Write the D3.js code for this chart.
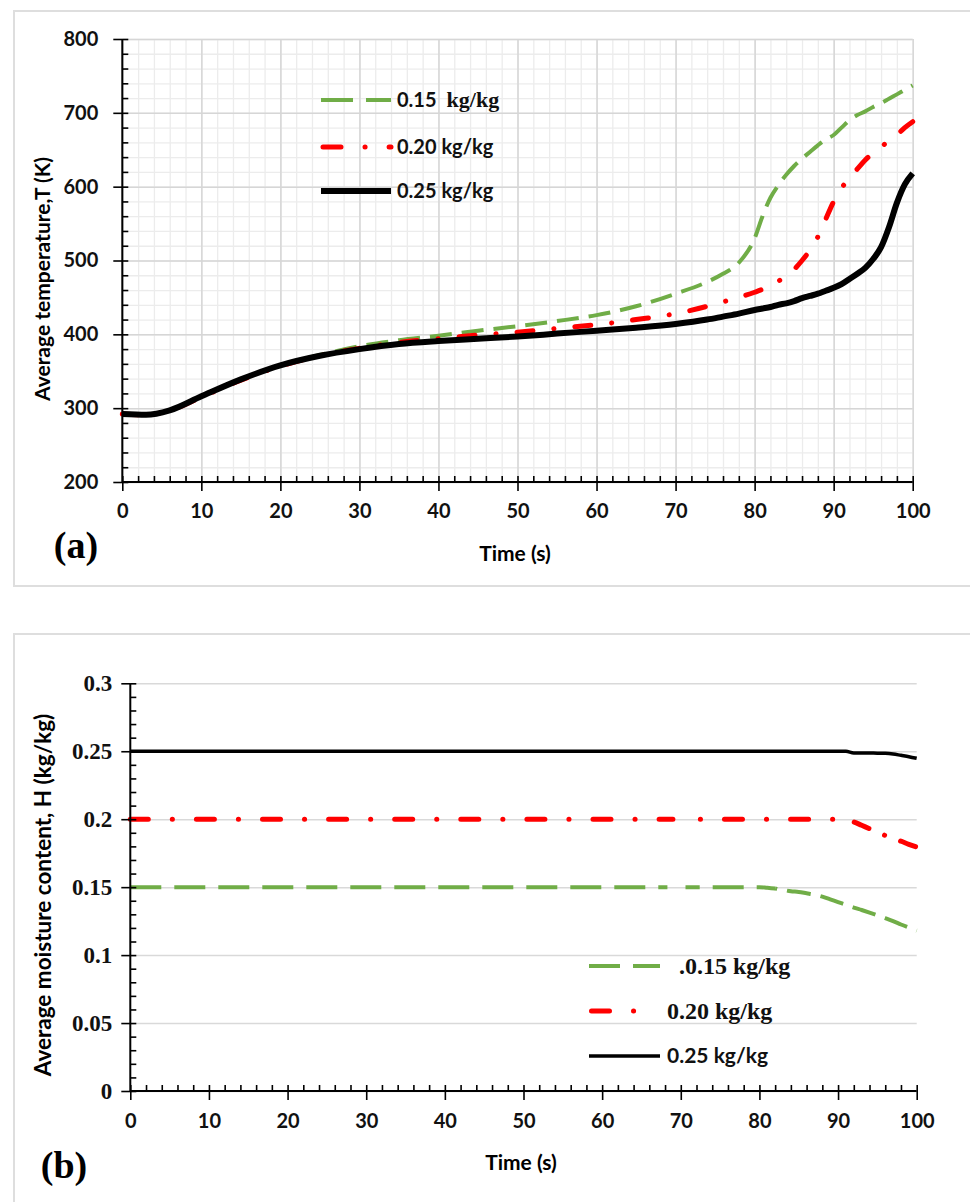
<!DOCTYPE html>
<html>
<head>
<meta charset="utf-8">
<script src="https://cdn.jsdelivr.net/npm/d3@7"></script>
<style>
  body { margin: 0; background: #fff; }
  svg { display: block; }
</style>
</head>
<body>
<script>
/***********************************************************************************/
// Data - panel (a): average temperature T (K) vs time (s)

var timeA = [0, 3, 6, 10, 15, 20, 25, 30, 35, 40, 45, 50, 55, 60, 65, 70, 74, 76, 78, 80,
             81, 82, 83, 84, 85, 86, 87, 88, 89, 90, 91, 92, 93, 94, 95, 96, 97, 98, 99, 100];
var tempH015 = [292, 291, 297, 316, 339, 358, 372, 384, 392, 398, 405, 411, 418, 426, 438, 455, 471, 482, 497, 530,
                560, 585, 602, 616, 628, 638, 647, 656, 664, 670, 680, 690, 697, 702, 708, 713, 719, 725, 731, 737];
var tempH020 = [292, 291, 297, 315, 338, 357, 371, 381, 389, 394, 399, 403, 408, 413, 420, 428, 438, 444, 450, 457,
                461, 466, 472, 479, 488, 500, 514, 532, 556, 580, 598, 612, 624, 636, 646, 654, 662, 670, 680, 688];
var tempH025 = [292, 291, 297, 316, 339, 358, 371, 380, 387, 391, 394, 397, 401, 405, 409, 414, 420, 424, 428, 433,
                435, 437, 440, 442, 445, 449, 452, 455, 459, 463, 468, 475, 482, 490, 502, 518, 545, 578, 603, 618];

/***********************************************************************************/
// Data - panel (b): average moisture content H (kg/kg) vs time (s)
// (null = the short break seen in the dashed series around 69-71 s)

var timeB = [0, 10, 20, 30, 40, 50, 60, 68.3, 69, 70.6, 71.4, 80, 81, 82, 83, 84, 85, 86, 87, 88, 89, 90,
             91, 92, 93, 94, 95, 96, 97, 98, 99, 100];
var moistH015 = [0.15, 0.15, 0.15, 0.15, 0.15, 0.15, 0.15, 0.15, null, 0.15, 0.15, 0.15,
                 0.1495, 0.149, 0.148, 0.147, 0.1465, 0.1455, 0.1445, 0.143, 0.141, 0.139,
                 0.137, 0.135, 0.1332, 0.1313, 0.1293, 0.1272, 0.125, 0.1225, 0.1202, 0.118];
var moistH020 = [0.2, 0.2, 0.2, 0.2, 0.2, 0.2, 0.2, 0.2, 0.2, null, 0.2, 0.2,
                 0.2, 0.2, 0.2, 0.2, 0.2, 0.2, 0.2, 0.2, 0.2, 0.2,
                 0.1995, 0.198, 0.1955, 0.193, 0.1905, 0.188, 0.1858, 0.1838, 0.1815, 0.1795];
var moistH025 = [0.25, 0.25, 0.25, 0.25, 0.25, 0.25, 0.25, 0.25, 0.25, 0.25, 0.25, 0.25,
                 0.25, 0.25, 0.25, 0.25, 0.25, 0.25, 0.25, 0.25, 0.25, 0.25,
                 0.25, 0.2488, 0.2488, 0.2487, 0.2486, 0.2485, 0.248, 0.247, 0.246, 0.2448];

// Tick values and labels
var timeTicks = d3.range(0, 101, 10);
var tempTicks = d3.range(200, 801, 100);
var moistTicks = [0, 0.05, 0.1, 0.15, 0.2, 0.25, 0.3];
var legendA = ['0.15', '0.20 kg/kg', '0.25 kg/kg'];
var legendB = ['.0.15 kg/kg', '0.20 kg/kg', '0.25 kg/kg'];

/***********************************************************************************/
// Setup

var SANS = "Lato, 'Open Sans', sans-serif";
var SERIF = "'Liberation Serif', 'DejaVu Serif', serif";
var GREEN = '#70ad47', RED = '#ff0000', BLACK = '#000000';

var svg = d3.select('body').append('svg').attr('width', 970).attr('height', 1202);

// panel frames (they run off the right edge like the source figure)
svg.append('rect').attr('x', 14).attr('y', 11).attr('width', 990).attr('height', 575)
  .attr('fill', 'none').attr('stroke', '#dedede').attr('stroke-width', 2);
svg.append('rect').attr('x', 14).attr('y', 634).attr('width', 990).attr('height', 620)
  .attr('fill', 'none').attr('stroke', '#dedede').attr('stroke-width', 2);

function zip(ts, vs){ return ts.map(function(t, i){ return { t: t, v: vs[i] }; }); }

// split at nulls -> list of continuous pieces
function pieces(pts){
  var out = [], cur = [];
  pts.forEach(function(p){
    if (p.v == null) { if (cur.length) out.push(cur); cur = []; }
    else cur.push(p);
  });
  if (cur.length) out.push(cur);
  return out;
}

function styleAxis(g){
  g.select('.domain').remove();
  g.selectAll('line').attr('stroke', '#000').attr('stroke-width', 1.6);
}

function gridStyle(color, w){
  return function(g){ g.select('.domain').remove(); g.selectAll('line').attr('stroke', color).attr('stroke-width', w); };
}

/***********************************************************************************/
// Panel (a)

var xA = d3.scaleLinear().domain([0, 100]).range([122.3, 912.7]);
var yA = d3.scaleLinear().domain([200, 800]).range([482, 39]);
var gA = svg.append('g');

// grid: minor then major
gA.append('g').attr('transform', `translate(0,${yA(200)})`)
  .call(d3.axisBottom(xA).tickValues(d3.range(0, 101, 2)).tickSize(yA(800) - yA(200)).tickFormat(''))
  .call(gridStyle('#ececec', 1.3));
gA.append('g').attr('transform', `translate(${xA(0)},0)`)
  .call(d3.axisLeft(yA).tickValues(d3.range(200, 801, 20)).tickSize(xA(0) - xA(100)).tickFormat(''))
  .call(gridStyle('#ececec', 1.3));
gA.append('g').attr('transform', `translate(0,${yA(200)})`)
  .call(d3.axisBottom(xA).tickValues(timeTicks).tickSize(yA(800) - yA(200)).tickFormat(''))
  .call(gridStyle('#d6d6d6', 1.5));
gA.append('g').attr('transform', `translate(${xA(0)},0)`)
  .call(d3.axisLeft(yA).tickValues(tempTicks).tickSize(xA(0) - xA(100)).tickFormat(''))
  .call(gridStyle('#d6d6d6', 1.5));

// curves
var lineA = d3.line().x(function(d){ return xA(d.t); }).y(function(d){ return yA(d.v); }).curve(d3.curveMonotoneX);
var seriesA = [
  { values: tempH015, color: GREEN, width: 4, dash: '22,10', cap: 'butt' },
  { values: tempH020, color: RED, width: 5, dash: '16,21,0.1,21', cap: 'round' },
  { values: tempH025, color: BLACK, width: 6, dash: null, cap: 'butt' }
];
seriesA.forEach(function(s){
  gA.append('path').datum(zip(timeA, s.values)).attr('d', lineA)
    .attr('fill', 'none').attr('stroke', s.color).attr('stroke-width', s.width)
    .attr('stroke-dasharray', s.dash).attr('stroke-linecap', s.cap).attr('stroke-linejoin', 'round');
});

// axes: inward minor ticks + crossing major ticks
gA.append('g').attr('transform', `translate(0,${yA(200)})`)
  .call(d3.axisBottom(xA).tickValues(d3.range(0, 101, 2)).tickSize(-6).tickFormat('')).call(styleAxis);
gA.append('g').attr('transform', `translate(${xA(0)},0)`)
  .call(d3.axisLeft(yA).tickValues(d3.range(200, 801, 20)).tickSize(-6).tickFormat('')).call(styleAxis);
gA.append('g').attr('transform', `translate(0,${yA(200)})`)
  .call(d3.axisBottom(xA).tickValues(timeTicks).tickSize(9).tickFormat(d3.format('d'))).call(styleAxis)
  .call(function(g){ g.selectAll('text').attr('y', 29).attr('dy', '0.35em'); });
gA.append('g').attr('transform', `translate(${xA(0)},0)`)
  .call(d3.axisLeft(yA).tickValues(tempTicks).tickSize(9).tickPadding(15).tickFormat(d3.format('d'))).call(styleAxis);
gA.append('line').attr('x1', xA(0)).attr('x2', xA(100)).attr('y1', yA(200)).attr('y2', yA(200)).attr('stroke', '#000').attr('stroke-width', 2);
gA.append('line').attr('x1', xA(0)).attr('x2', xA(0)).attr('y1', yA(200)).attr('y2', yA(800)).attr('stroke', '#000').attr('stroke-width', 2);
gA.selectAll('.tick text').attr('font-family', SANS).attr('font-weight', 700).attr('font-size', 20).attr('fill', '#111');

// titles
gA.append('text').attr('transform', 'translate(43,279) rotate(-90)').attr('text-anchor', 'middle').attr('dy', '0.35em')
  .attr('font-family', SANS).attr('font-weight', 700).attr('font-size', 21).text('Average temperature,T (K)');
gA.append('text').attr('x', 515).attr('y', 554).attr('text-anchor', 'middle').attr('dy', '0.35em')
  .attr('font-family', SANS).attr('font-weight', 700).attr('font-size', 21).text('Time (s)');
gA.append('text').attr('x', 76).attr('y', 545).attr('text-anchor', 'middle').attr('dy', '0.35em')
  .attr('font-family', SERIF).attr('font-weight', 700).attr('font-size', 38).text('(a)');

// legend
var legA = gA.append('g');
var legDashA = ['32,13', '18,24,0.1,24', null];
var legYA = [100, 147, 191];
seriesA.forEach(function(s, i){
  var x1 = s.cap === 'round' ? 323 : 321;
  legA.append('line').attr('x1', x1).attr('x2', 391).attr('y1', legYA[i]).attr('y2', legYA[i])
    .attr('stroke', s.color).attr('stroke-width', s.width).attr('stroke-dasharray', legDashA[i]).attr('stroke-linecap', s.cap);
  var t = legA.append('text').attr('x', 397).attr('y', legYA[i]).attr('dy', '0.35em')
    .attr('font-family', SANS).attr('font-weight', 700).attr('font-size', 20).attr('fill', '#111').text(legendA[i]);
  if (i === 0) t.append('tspan').attr('font-family', SERIF).attr('font-size', 22).attr('dx', 10).text('kg/kg');
});

/***********************************************************************************/
// Panel (b)

var xB = d3.scaleLinear().domain([0, 100]).range([130.3, 916.7]);
var yB = d3.scaleLinear().domain([0, 0.3]).range([1091, 683.3]);
var gB = svg.append('g');

gB.append('g').attr('transform', `translate(${xB(0)},0)`)
  .call(d3.axisLeft(yB).tickValues(moistTicks).tickSize(xB(0) - xB(100)).tickFormat(''))
  .call(gridStyle('#d9d9d9', 1.5));

var lineB = d3.line().x(function(d){ return xB(d.t); }).y(function(d){ return yB(d.v); }).curve(d3.curveMonotoneX);
// the falling tails are drawn with a tighter dash, as in the source figure
var seriesB = [
  { values: moistH015, color: GREEN, width: 4, dash: '31,13', cap: 'butt', tail: { from: 82, dash: '24,10', offset: 22 } },
  { values: moistH020, color: RED, width: 5, dash: '18,24,0.1,24', cap: 'round', tail: { from: 90, dash: '16,17,0.1,17', offset: 33.6 } },
  { values: moistH025, color: BLACK, width: 3.5, dash: null, cap: 'butt' }
];
seriesB.forEach(function(s){
  var pcs = pieces(zip(timeB, s.values));
  pcs.forEach(function(pc, j){
    var parts = [pc];
    if (s.tail && j === pcs.length - 1) {
      parts = [pc.filter(function(d){ return d.t <= s.tail.from; }), pc.filter(function(d){ return d.t >= s.tail.from; })];
    }
    parts.forEach(function(part, k){
      var isTail = k === 1;
      // pieces keep the dash phase of the whole series (lines are flat before the break)
      gB.append('path').datum(part).attr('d', lineB)
        .attr('fill', 'none').attr('stroke', s.color).attr('stroke-width', s.width)
        .attr('stroke-dasharray', isTail ? s.tail.dash : s.dash)
        .attr('stroke-dashoffset', isTail ? s.tail.offset : -(xB(part[0].t) - xB(0)))
        .attr('stroke-linecap', s.cap).attr('stroke-linejoin', 'round');
    });
  });
});

gB.append('g').attr('transform', `translate(0,${yB(0)})`)
  .call(d3.axisBottom(xB).tickValues(d3.range(0, 101, 2)).tickSize(-6).tickFormat('')).call(styleAxis);
gB.append('g').attr('transform', `translate(${xB(0)},0)`)
  .call(d3.axisLeft(yB).tickValues(d3.range(0, 0.3001, 0.01)).tickSize(-6).tickFormat('')).call(styleAxis);
gB.append('g').attr('transform', `translate(0,${yB(0)})`)
  .call(d3.axisBottom(xB).tickValues(timeTicks).tickSize(9).tickFormat(d3.format('d'))).call(styleAxis)
  .call(function(g){ g.selectAll('text').attr('y', 30).attr('dy', '0.35em')
    .attr('font-family', SANS).attr('font-weight', 700).attr('font-size', 20).attr('fill', '#111'); });
gB.append('g').attr('transform', `translate(${xB(0)},0)`)
  .call(d3.axisLeft(yB).tickValues(moistTicks).tickSize(9).tickPadding(9).tickFormat(function(d){ return String(+d.toFixed(2)); }))
  .call(styleAxis)
  .call(function(g){ g.selectAll('text').attr('font-family', SERIF).attr('font-weight', 700).attr('font-size', 23).attr('fill', '#111'); });
gB.append('line').attr('x1', xB(0)).attr('x2', xB(100)).attr('y1', yB(0)).attr('y2', yB(0)).attr('stroke', '#000').attr('stroke-width', 2);
gB.append('line').attr('x1', xB(0)).attr('x2', xB(0)).attr('y1', yB(0)).attr('y2', yB(0.3)).attr('stroke', '#000').attr('stroke-width', 2);

gB.append('text').attr('transform', 'translate(43,895) rotate(-90)').attr('text-anchor', 'middle').attr('dy', '0.35em')
  .attr('font-family', SANS).attr('font-weight', 700).attr('font-size', 22.5).text('Average moisture content, H (kg/kg)');
gB.append('text').attr('x', 521).attr('y', 1163).attr('text-anchor', 'middle').attr('dy', '0.35em')
  .attr('font-family', SANS).attr('font-weight', 700).attr('font-size', 21).text('Time (s)');
gB.append('text').attr('x', 64).attr('y', 1165).attr('text-anchor', 'middle').attr('dy', '0.35em')
  .attr('font-family', SERIF).attr('font-weight', 700).attr('font-size', 38).text('(b)');

var legB = gB.append('g');
var legDashB = ['31,13', '18,24,0.1,24', null];
var legYB = [966, 1011, 1056];
var legX2B = [660, 636, 660];
var legTextXB = [679, 667, 667];
seriesB.forEach(function(s, i){
  var x1 = s.cap === 'round' ? 591.5 : 589;
  legB.append('line').attr('x1', x1).attr('x2', legX2B[i]).attr('y1', legYB[i]).attr('y2', legYB[i])
    .attr('stroke', s.color).attr('stroke-width', s.width).attr('stroke-dasharray', legDashB[i]).attr('stroke-linecap', s.cap);
  legB.append('text').attr('x', legTextXB[i]).attr('y', legYB[i]).attr('dy', '0.35em')
    .attr('font-family', i < 2 ? SERIF : SANS).attr('font-weight', 700).attr('font-size', i < 2 ? 24 : 21)
    .attr('fill', '#111').text(legendB[i]);
});
</script>
</body>
</html>
